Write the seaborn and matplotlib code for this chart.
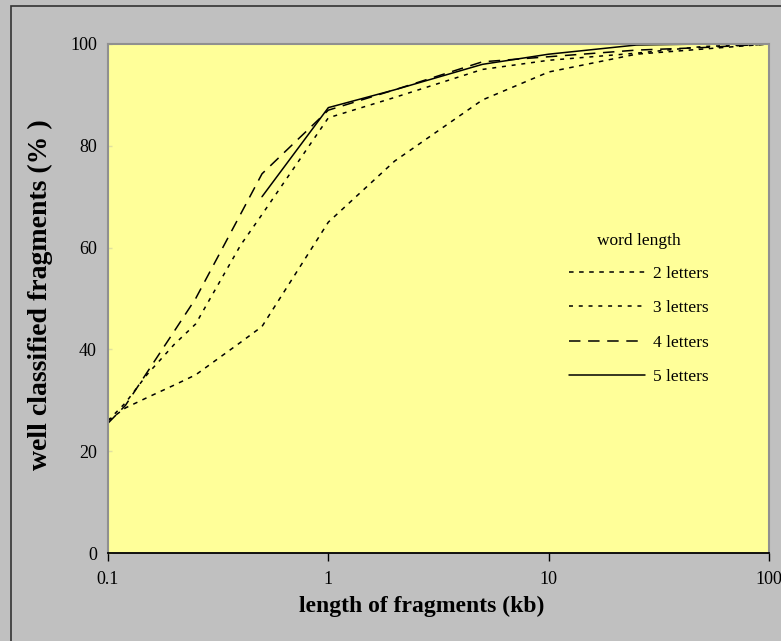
import numpy as np
import pandas as pd
import matplotlib.pyplot as plt
import seaborn as sns
from matplotlib.lines import Line2D
from matplotlib.patches import Rectangle

# fragment length (kb)
lengths = [0.1, 0.12, 0.15, 0.2, 0.25, 0.4, 0.5, 1, 2, 5, 10, 25, 50, 100]
letters2 = [26, 28.5, 30.5, 33, 35, 41.4, 44.5, 65, 77, 89, 94.5, 98, 99, 100]
letters3 = [26, 29.5, 35, 41, 45, 60.5, 66.5, 85.5, 89.5, 95, 96.8, 98.2, 99.5, 100]
letters4 = [25.5, 29, 35.4, 43.6, 50, 66.6, 74.5, 87, 91, 96.5, 97.5, 98.8, 99.3, 100]
# 5-letter words only measured from 0.5 kb
letters5 = [np.nan] * 6 + [70, 87.5, 91, 96, 98, 99.8, 100, 100]

series_names = ["2 letters", "3 letters", "4 letters", "5 letters"]
x_ticks = [0.1, 1, 10, 100]
x_ticklabels = ["0.1", "1", "10", "100"]
y_ticks = [0, 20, 40, 60, 80, 100]

rows = []
for name, vals in zip(series_names, [letters2, letters3, letters4, letters5]):
    for x, v in zip(lengths, vals):
        if not np.isnan(v):
            rows.append([name, x, v])
df = pd.DataFrame(rows, columns=["series", "length", "pct"])

sns.set_style("ticks")
plt.rcParams["font.family"] = ["Liberation Serif", "DejaVu Serif"]
plt.rcParams["text.color"] = "black"
plt.rcParams["xtick.labelcolor"] = "black"
plt.rcParams["ytick.labelcolor"] = "black"
plt.rcParams["axes.labelcolor"] = "black"

dash_styles = {
    "2 letters": (3.0, 3.6),
    "3 letters": (2.6, 3.8),
    "4 letters": (7.5, 5.0),
    "5 letters": "",
}

fig = plt.figure(figsize=(7.81, 6.41), dpi=100)
fig.patch.set_facecolor("#C0C0C0")
fig.patches.append(Rectangle((11 / 781, -0.01), 1.02, 1 - 6 / 641 + 0.01,
                             transform=fig.transFigure, fill=False,
                             edgecolor="#333333", lw=1.2))
ax = fig.add_axes([108 / 781, 1 - 553 / 641, (769 - 108) / 781, (553 - 44) / 641])
ax.set_facecolor("#FFFF99")

sns.lineplot(data=df, x="length", y="pct", hue="series", style="series",
             hue_order=series_names, style_order=series_names,
             palette=["black"] * 4, dashes=dash_styles, estimator=None,
             linewidth=1.1, legend=False, ax=ax)

ax.set_xscale("log")
ax.set_xlim(0.1, 100)
ax.set_ylim(0, 100)
ax.set_xticks(x_ticks)
ax.set_xticklabels(x_ticklabels)
ax.xaxis.set_minor_locator(plt.NullLocator())
ax.set_yticks(y_ticks)
ax.tick_params(axis="x", which="major", direction="out", length=6, width=1,
               color="black", labelsize=13, pad=7)
ax.tick_params(axis="y", which="major", direction="in", length=3, width=1,
               color="#E0E0A0", labelsize=13, pad=8)

for side in ["top", "right", "left"]:
    ax.spines[side].set_visible(True)
    ax.spines[side].set_color("#909090")
    ax.spines[side].set_linewidth(1.5)
ax.spines["bottom"].set_color("black")
ax.spines["bottom"].set_linewidth(1.3)

ax.set_xlabel("length of fragments (kb)", fontsize=17, fontweight="bold")
ax.set_ylabel("well classified fragments (% )", fontsize=20, fontweight="bold")
ax.xaxis.set_label_coords((422 - 108) / 661, -(606 - 553) / 509)
ax.yaxis.set_label_coords(-(108 - 40) / 661, (553 - 295) / 509)
ax.xaxis.label.set_verticalalignment("center")
ax.yaxis.label.set_verticalalignment("center")

handles = [Line2D([], [], color="black", lw=1.1, dashes=dash_styles[n])
           for n in series_names[:3]]
handles.append(Line2D([], [], color="black", lw=1.1, linestyle="-"))
leg = ax.legend(handles, series_names, title="word length", loc="upper left",
                bbox_to_anchor=((569 - 108) / 661, (553 - 233) / 509),
                frameon=False, fontsize=12.5, title_fontsize=12.5,
                handlelength=4.4, handletextpad=0.45, labelspacing=1.05,
                borderpad=0, borderaxespad=0)
leg._legend_box.sep = 12

fig.savefig("out.png", dpi=100, facecolor=fig.get_facecolor())
